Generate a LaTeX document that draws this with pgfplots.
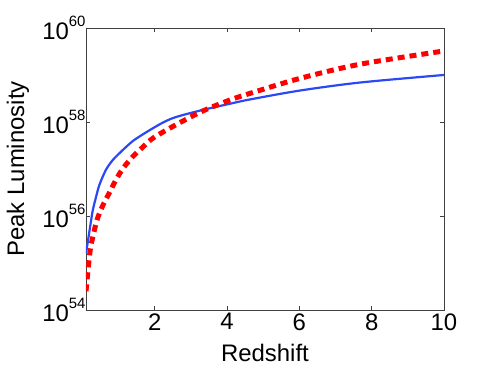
\documentclass[border=0pt]{standalone}
\usepackage{fontspec}
\setmainfont{Liberation Sans}
\usepackage{pgfplots}
\pgfplotsset{compat=1.18}
\definecolor{bl}{HTML}{2A48F5}
\definecolor{rd}{HTML}{FF0000}
\definecolor{ax}{HTML}{404040}
\newcommand{\pw}[1]{10\raisebox{1.0ex}{\fontsize{15}{15}\selectfont #1}}
\begin{document}
\begin{tikzpicture}
\useasboundingbox (-86bp,-59bp) rectangle (405bp,310bp);
\begin{axis}[at={(0,0)}, anchor=south west, scale only axis,
    width=358bp, height=282bp,
    xmin=0.1, xmax=10, ymode=log, ymin=1e54, ymax=1e60,
    xtick={2,4,6,8,10}, ytick={1e54,1e56,1e58,1e60},
    yticklabels={\pw{54},\pw{56},\pw{58},\pw{60}},
    minor ytick={}, tick align=inside, major tick length=4bp,
    axis line style={ax, line width=0.8bp}, tick style={ax, line width=0.6bp},
    font=\fontsize{24}{28}\selectfont,
    ticklabel style={font=\fontsize{24}{28}\selectfont},
    yticklabel style={xshift=3bp},
    /pgf/number format/assume math mode=true,
    xlabel={Redshift}, ylabel={Peak Luminosity},
    xlabel style={at={(axis description cs:0.5,-0.184)}, anchor=base},
    ylabel style={at={(axis description cs:-0.173,0.5)}, anchor=base},
    every axis plot/.append style={no markers}]
  % blue solid
  \addplot[bl, line width=2.2bp, smooth] coordinates {
    (0.1,1.58e55) (0.23,7.08e55) (0.29,1.35e56) (0.38,2.57e56) (0.47,4.57e56)
    (0.65,9.55e56) (0.84,1.55e57) (1.02,2.14e57) (1.21,2.95e57) (1.44,4.17e57)
    (1.87,6.76e57) (2.26,1.0e58) (2.61,1.29e58) (3.35,1.82e58) (4.09,2.45e58)
    (4.64,3.02e58) (6.03,4.68e58) (7.69,6.92e58) (10,1.0e59)};
  % red dashed
  \addplot[rd, line width=5bp, dash pattern=on 7bp off 5bp, smooth] coordinates {
    (0.1,2.51e54) (0.15,6.31e54) (0.18,1.07e55) (0.23,2.19e55) (0.32,4.57e55)
    (0.41,8.51e55) (0.55,1.58e56) (0.75,3.16e56) (0.93,5.89e56) (1.12,1.02e57)
    (1.39,1.82e57) (1.65,2.82e57) (1.96,4.57e57) (2.61,8.91e57) (3.35,1.74e58)
    (4.09,2.95e58) (4.64,4.07e58) (6.03,8.51e58) (7.69,1.70e59) (10,3.24e59)};
\end{axis}
\end{tikzpicture}
\end{document}
